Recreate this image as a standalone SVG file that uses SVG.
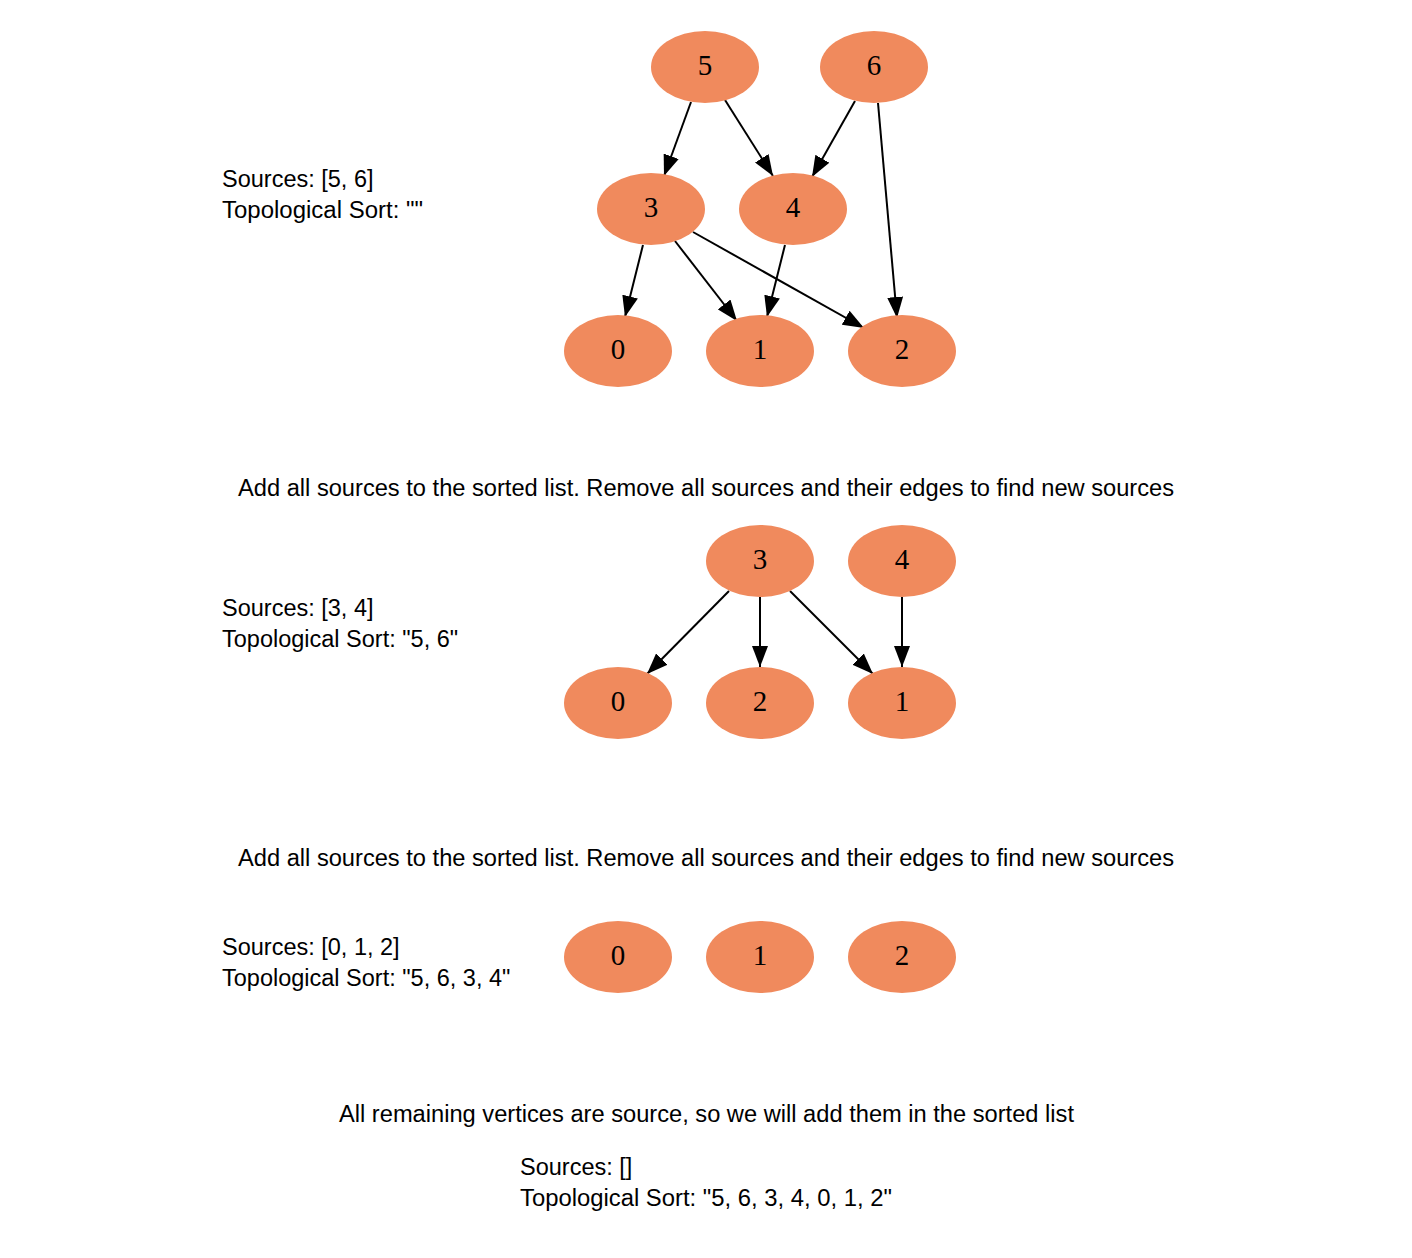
<svg xmlns="http://www.w3.org/2000/svg" width="1412" height="1258" viewBox="0 0 1412 1258">
<style>
.node ellipse{fill:#F08A5D;stroke:none}
.node text{font-family:"Liberation Serif","Times New Roman",serif;font-size:29px;text-anchor:middle;fill:#000}
.edge{stroke:#000;stroke-width:2;fill:none;marker-end:url(#arrow)}
.lbl{font-family:"Liberation Sans",Arial,Helvetica,sans-serif;font-size:23.5px;fill:#000}
</style>
<defs>
<marker id="arrow" viewBox="0 0 21 16" refX="21" refY="8" markerWidth="21" markerHeight="16" markerUnits="userSpaceOnUse" orient="auto">
<path d="M0,0 L21,8 L0,16 Z" fill="#000"/>
</marker>
</defs>
<rect width="1412" height="1258" fill="#fff"/>

<g id="connectors">
<line class="edge" x1="691" y1="102" x2="664" y2="176"/>
<line class="edge" x1="725" y1="100" x2="773" y2="176"/>
<line class="edge" x1="855" y1="101" x2="812" y2="177"/>
<line class="edge" x1="878" y1="103" x2="897" y2="318"/>
<line class="edge" x1="643" y1="245" x2="625" y2="317"/>
<line class="edge" x1="675" y1="241" x2="737" y2="321"/>
<line class="edge" x1="693" y1="232" x2="864" y2="328"/>
<line class="edge" x1="785" y1="245" x2="767" y2="317"/>
<line class="edge" x1="729" y1="591" x2="647" y2="674"/>
<line class="edge" x1="760" y1="597" x2="760" y2="667"/>
<line class="edge" x1="790" y1="591" x2="873" y2="674"/>
<line class="edge" x1="902" y1="597" x2="902" y2="667"/>
</g>

<g id="g1-n5" class="node"><ellipse cx="705" cy="67" rx="54" ry="36"/><text x="705" y="75">5</text></g>
<g id="g1-n6" class="node"><ellipse cx="874" cy="67" rx="54" ry="36"/><text x="874" y="75">6</text></g>
<g id="g1-n3" class="node"><ellipse cx="651" cy="209" rx="54" ry="36"/><text x="651" y="217">3</text></g>
<g id="g1-n4" class="node"><ellipse cx="793" cy="209" rx="54" ry="36"/><text x="793" y="217">4</text></g>
<g id="g1-n0" class="node"><ellipse cx="618" cy="351" rx="54" ry="36"/><text x="618" y="359">0</text></g>
<g id="g1-n1" class="node"><ellipse cx="760" cy="351" rx="54" ry="36"/><text x="760" y="359">1</text></g>
<g id="g1-n2" class="node"><ellipse cx="902" cy="351" rx="54" ry="36"/><text x="902" y="359">2</text></g>

<g id="g2-n3" class="node"><ellipse cx="760" cy="561" rx="54" ry="36"/><text x="760" y="569">3</text></g>
<g id="g2-n4" class="node"><ellipse cx="902" cy="561" rx="54" ry="36"/><text x="902" y="569">4</text></g>
<g id="g2-n0" class="node"><ellipse cx="618" cy="703" rx="54" ry="36"/><text x="618" y="711">0</text></g>
<g id="g2-n2" class="node"><ellipse cx="760" cy="703" rx="54" ry="36"/><text x="760" y="711">2</text></g>
<g id="g2-n1" class="node"><ellipse cx="902" cy="703" rx="54" ry="36"/><text x="902" y="711">1</text></g>

<g id="g3-n0" class="node"><ellipse cx="618" cy="957" rx="54" ry="36"/><text x="618" y="965">0</text></g>
<g id="g3-n1" class="node"><ellipse cx="760" cy="957" rx="54" ry="36"/><text x="760" y="965">1</text></g>
<g id="g3-n2" class="node"><ellipse cx="902" cy="957" rx="54" ry="36"/><text x="902" y="965">2</text></g>

<g id="labels">
<text class="lbl" x="222" y="187">Sources: [5, 6]</text>
<text class="lbl" x="222" y="218" textLength="201" lengthAdjust="spacingAndGlyphs">Topological Sort: ""</text>
<text class="lbl" x="238" y="496" textLength="936" lengthAdjust="spacingAndGlyphs">Add all sources to the sorted list. Remove all sources and their edges to find new sources</text>
<text class="lbl" x="222" y="616">Sources: [3, 4]</text>
<text class="lbl" x="222" y="647">Topological Sort: "5, 6"</text>
<text class="lbl" x="238" y="866" textLength="936" lengthAdjust="spacingAndGlyphs">Add all sources to the sorted list. Remove all sources and their edges to find new sources</text>
<text class="lbl" x="222" y="955">Sources: [0, 1, 2]</text>
<text class="lbl" x="222" y="986">Topological Sort: "5, 6, 3, 4"</text>
<text class="lbl" x="339" y="1122" textLength="735" lengthAdjust="spacingAndGlyphs">All remaining vertices are source, so we will add them in the sorted list</text>
<text class="lbl" x="520" y="1175">Sources: []</text>
<text class="lbl" x="520" y="1206" textLength="372" lengthAdjust="spacingAndGlyphs">Topological Sort: "5, 6, 3, 4, 0, 1, 2"</text>
</g>
</svg>
